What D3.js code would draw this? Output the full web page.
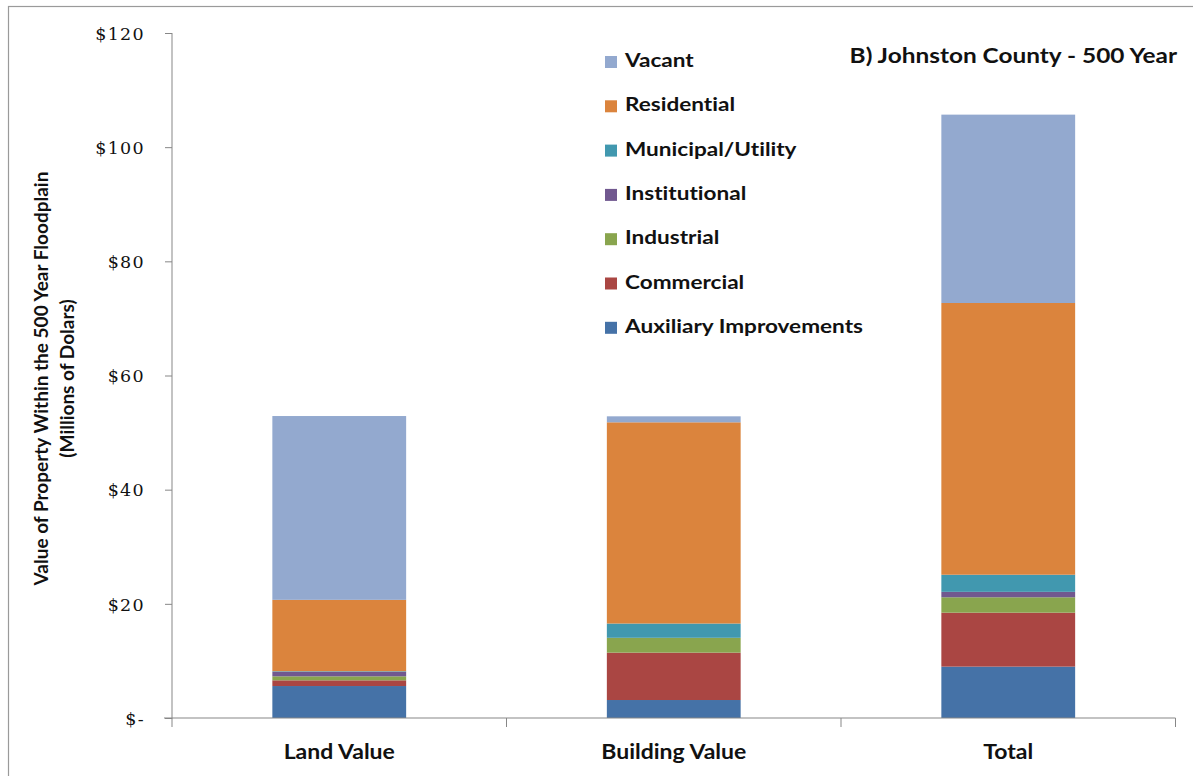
<!DOCTYPE html>
<html>
<head>
<meta charset="utf-8">
<script src="https://cdn.jsdelivr.net/npm/d3@7"></script>
<style>
  html, body { margin: 0; padding: 0; background: #fff; }
  svg { display: block; }
  text { font-variant-ligatures: none; }
</style>
</head>
<body>
<svg id="chart" width="1193" height="776"></svg>
<script>
// Property value within the 500-year floodplain, Johnston County (millions of dollars)
const categories = ["Land Value", "Building Value", "Total"];

const auxiliary     = [5.6, 3.15, 9.0];
const commercial    = [1.0, 8.3, 9.45];
const industrial    = [0.7, 2.6, 2.7];
const institutional = [0.8, 0.0, 0.95];
const municipal     = [0.1, 2.5, 3.0];
const residential   = [12.5, 35.25, 47.6];
const vacant        = [32.2, 1.05, 33.0];

// stacking order, bottom to top
const seriesNames = ["Auxiliary Improvements", "Commercial", "Industrial", "Institutional",
                     "Municipal/Utility", "Residential", "Vacant"];
const seriesValues = [auxiliary, commercial, industrial, institutional, municipal, residential, vacant];
const seriesColors = ["#4572A7", "#AA4643", "#89A54E", "#71588F", "#4198AF", "#DB843D", "#93A9CF"];

const yTicks = [0, 20, 40, 60, 80, 100, 120];
const yTickLabels = ["$-", "$20", "$40", "$60", "$80", "$100", "$120"];

const titleText = "B) Johnston County - 500 Year";
const yTitleLines = ["Value of Property Within the 500 Year Floodplain", "(Millions of Dolars)"];

const rows = categories.map((c, i) => {
  const r = { category: c };
  seriesNames.forEach((s, k) => { r[s] = seriesValues[k][i]; });
  return r;
});

const svg = d3.select("#chart");
const plot = { left: 172, right: 1175.5, top: 33, bottom: 718 };
const axisColor = "#878787";
const labelFont = "Lato, 'Open Sans', sans-serif";
const wide = 1.2; // horizontal stretch of the label type

// outer chart frame
svg.append("rect")
  .attr("x", 8.5).attr("y", 6.5).attr("width", 1300).attr("height", 900)
  .attr("fill", "none").attr("stroke", "#9a9a9a").attr("stroke-width", 1.2);

const x = d3.scaleBand()
  .domain(categories)
  .range([plot.left, plot.right])
  .paddingInner(0.6)
  .paddingOuter(0.3);

const y = d3.scaleLinear().domain([0, 120]).range([plot.bottom, plot.top]);

const color = d3.scaleOrdinal().domain(seriesNames).range(seriesColors);

const stacked = d3.stack().keys(seriesNames)(rows);

// bars
svg.append("g")
  .selectAll("g")
  .data(stacked)
  .join("g")
  .attr("fill", d => color(d.key))
  .selectAll("rect")
  .data(d => d)
  .join("rect")
  .attr("x", d => x(d.data.category))
  .attr("width", x.bandwidth())
  .attr("y", d => y(d[1]))
  .attr("height", d => Math.max(0, y(d[0]) - y(d[1])));

// y axis
const yAxis = d3.axisLeft(y)
  .tickValues(yTicks)
  .tickSize(7)
  .tickPadding(20)
  .tickFormat((d, i) => yTickLabels[i]);

const gy = svg.append("g")
  .attr("transform", `translate(${plot.left},0)`)
  .call(yAxis);
gy.select(".domain").attr("stroke", axisColor).attr("d", `M0,${plot.top}V${plot.bottom + 0.5}`);
gy.selectAll(".tick line").attr("stroke", axisColor);
gy.selectAll(".tick text")
  .attr("fill", "#111")
  .attr("dy", "0.36em")
  .style("font-family", "'DejaVu Serif', serif")
  .style("font-size", "17.5px")
  .style("letter-spacing", "1.3px");

// x axis with ticks on category boundaries
const gx = svg.append("g")
  .attr("transform", `translate(0,${plot.bottom})`);
gx.append("line")
  .attr("x1", plot.left - 8).attr("x2", plot.right)
  .attr("stroke", axisColor);
const boundaries = [plot.left].concat(categories.map(c => x(c) + x.bandwidth() / 2 + x.step() / 2));
gx.selectAll("line.tk")
  .data(boundaries)
  .join("line")
  .attr("class", "tk")
  .attr("x1", d => d).attr("x2", d => d)
  .attr("y1", 0).attr("y2", 9)
  .attr("stroke", axisColor);
gx.selectAll("g.lbl")
  .data(categories)
  .join("g")
  .attr("class", "lbl")
  .attr("transform", d => `translate(${x(d) + x.bandwidth() / 2},41) scale(1.15,1)`)
  .append("text")
  .attr("text-anchor", "middle")
  .style("font-family", labelFont)
  .style("font-weight", "bold")
  .style("font-size", "20px")
  .attr("fill", "#111")
  .text(d => d);

// y axis title
const yt = svg.append("text")
  .attr("transform", `translate(48,${(plot.top + plot.bottom) / 2 + 3}) rotate(-90)`)
  .attr("text-anchor", "middle")
  .style("font-family", labelFont)
  .style("font-weight", "bold")
  .style("font-size", "19px")
  .attr("fill", "#111");
yt.selectAll("tspan")
  .data(yTitleLines)
  .join("tspan")
  .attr("x", 0)
  .attr("dy", (d, i) => i === 0 ? 0 : 26)
  .text(d => d);

// chart title
svg.append("g")
  .attr("transform", `translate(1177,63) scale(${wide + 0.02},1)`)
  .append("text")
  .attr("text-anchor", "end")
  .style("font-family", labelFont)
  .style("font-weight", "bold")
  .style("font-size", "20px")
  .attr("fill", "#111")
  .text(titleText);

// legend, top series first
const legendItems = seriesNames.slice().reverse();
const legend = svg.append("g").attr("transform", "translate(605,67)");
const li = legend.selectAll("g")
  .data(legendItems)
  .join("g")
  .attr("transform", (d, i) => `translate(0,${i * 44.3})`);
li.append("rect")
  .attr("x", 0).attr("y", -11)
  .attr("width", 12).attr("height", 12)
  .attr("fill", d => color(d));
li.append("g")
  .attr("transform", `translate(20,0) scale(${wide + 0.02},1)`)
  .append("text")
  .style("font-family", labelFont)
  .style("font-weight", "bold")
  .style("font-size", "18.5px")
  .attr("fill", "#111")
  .text(d => d);
</script>
</body>
</html>
